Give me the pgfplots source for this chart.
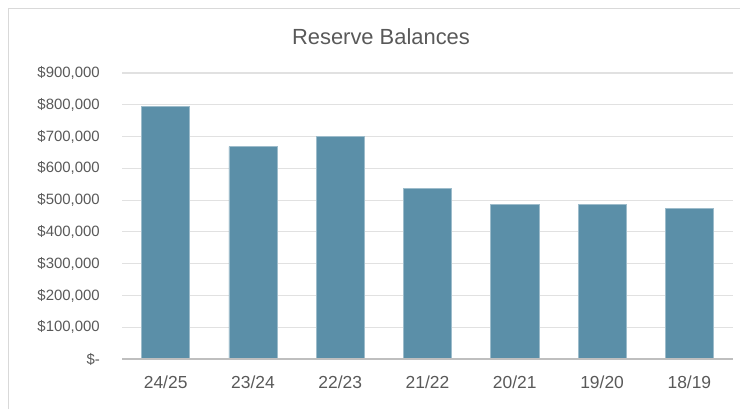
\documentclass[border=0pt]{standalone}
\usepackage{pgfplots}
\pgfplotsset{compat=1.18}
\usepackage{fontspec}
\setmainfont{Liberation Sans}
\definecolor{barblue}{RGB}{91,143,168}
\definecolor{txtgray}{RGB}{89,89,89}
\definecolor{gridgray}{RGB}{225,225,225}
\definecolor{axisgray}{RGB}{191,191,191}
\definecolor{framegray}{RGB}{217,217,217}
\begin{document}
\begin{tikzpicture}[x=1bp,y=1bp]
\useasboundingbox (0,0) rectangle (740,409);
\draw[framegray, line width=1bp] (8,0) -- (8,400) -- (740,400);
\node[txtgray, font=\fontsize{22}{26}\selectfont] at (381,372) {Reserve Balances};
\begin{axis}[
    at={(122bp,50bp)}, anchor=south west,
    scale only axis, width=611bp, height=286bp,
    xmin=-0.5, xmax=6.5, ymin=0, ymax=900000,
    ybar, bar width=0.55,
    xtick=data,
    xticklabels={24/25,23/24,22/23,21/22,20/21,19/20,18/19},
    ytick={0,100000,...,900000},
    scaled y ticks=false,
    yticklabels={\$-\hspace{8bp},\$100{,}000,\$200{,}000,\$300{,}000,\$400{,}000,\$500{,}000,\$600{,}000,\$700{,}000,\$800{,}000,\$900{,}000},
    axis line style={draw=none},
    axis x line*=bottom,
    major tick length=0pt,
    ymajorgrids, grid style={gridgray, line width=1.2bp},
    tick label style={txtgray, inner sep=0pt},
    yticklabel style={anchor=east, xshift=-22bp, font=\fontsize{15}{18}\selectfont},
    xticklabel style={anchor=north, yshift=-17bp, font=\fontsize{17.5}{20}\selectfont},
    clip=false,
]
\addplot[fill=barblue, draw=barblue!60!white, line width=0.6bp, bar shift=0pt] coordinates {
(0,795000) (1,668000) (2,700000) (3,537000) (4,487000) (5,487000) (6,473000)
};
\draw[axisgray, line width=1.2bp] (axis cs:-0.5,0) -- (axis cs:6.5,0);
\end{axis}
\end{tikzpicture}
\end{document}
